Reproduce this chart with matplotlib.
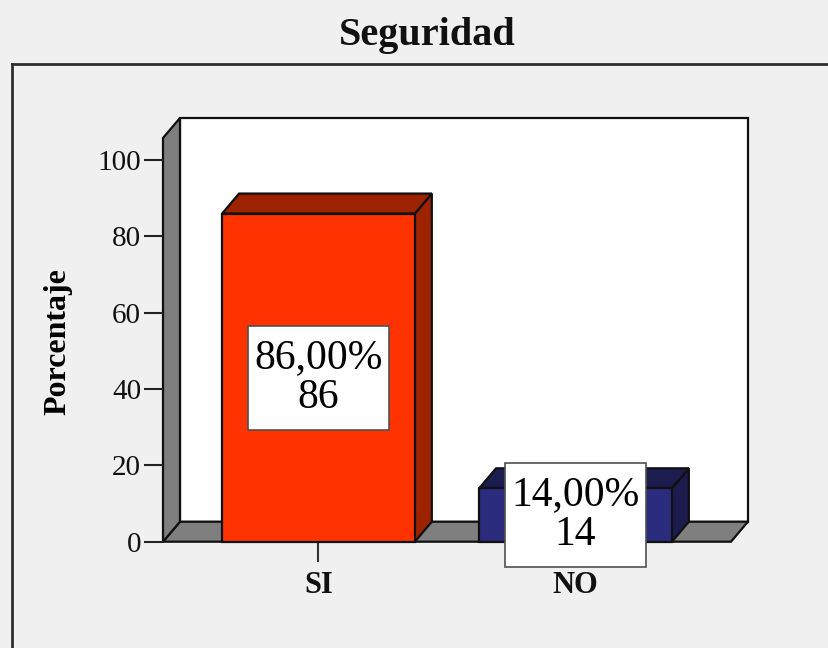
import matplotlib
matplotlib.use("Agg")
import matplotlib.pyplot as plt
from matplotlib.patches import Rectangle, Polygon
from matplotlib.lines import Line2D

# Data
categories = ["SI", "NO"]
percentages = [86.0, 14.0]
counts = [86, 14]
yticks = [0, 20, 40, 60, 80, 100]

title = "Seguridad"
ylabel = "Porcentaje"

plt.rcParams["font.family"] = ["Liberation Serif", "DejaVu Serif"]

BG = "#F0F0F0"
WALL_GRAY = "#7F7F7F"
EDGE = "#101010"
front_colors = ["#FF3300", "#2B2B7E"]
shade_colors = ["#9C2200", "#1C1C4E"]

W, H = 829, 648
fig = plt.figure(figsize=(W / 100, H / 100), dpi=100, facecolor=BG)

# plot area (front frame of the 3D box)
left_px, right_px, base_px, top_px = 163, 731, 541.7, 138
ax = fig.add_axes([left_px / W, (H - base_px) / H,
                   (right_px - left_px) / W, (base_px - top_px) / H])
x0, x1 = -0.605, 1.605
ytop = 105.8
ax.set_xlim(x0, x1)
ax.set_ylim(0, ytop)
ax.patch.set_visible(False)
for s in ax.spines.values():
    s.set_visible(False)

# depth of the 3D effect in data units
dx, dy = 0.066, 5.24
lw = 1.6

# back wall
ax.add_patch(Rectangle((x0 + dx, dy), x1 - x0, ytop, facecolor="white",
                       edgecolor=EDGE, lw=lw, clip_on=False, zorder=1))
# left wall
ax.add_patch(Polygon([(x0, 0), (x0, ytop), (x0 + dx, ytop + dy), (x0 + dx, dy)],
                     closed=True, facecolor=WALL_GRAY, edgecolor=EDGE, lw=lw,
                     clip_on=False, zorder=1.2))
# floor
ax.add_patch(Polygon([(x0, 0), (x0 + dx, dy), (x1 + dx, dy), (x1, 0)],
                     closed=True, facecolor=WALL_GRAY, edgecolor=EDGE, lw=lw,
                     clip_on=False, zorder=1.1))

# bars
bw = 0.75
for i, v in enumerate(percentages):
    xl, xr = i - bw / 2, i + bw / 2
    ax.add_patch(Polygon([(xr, 0), (xr, v), (xr + dx, v + dy), (xr + dx, dy)],
                         closed=True, facecolor=shade_colors[i], edgecolor=EDGE,
                         lw=lw, clip_on=False, zorder=2))
    ax.add_patch(Polygon([(xl, v), (xl + dx, v + dy), (xr + dx, v + dy), (xr, v)],
                         closed=True, facecolor=shade_colors[i], edgecolor=EDGE,
                         lw=lw, clip_on=False, zorder=2))
    ax.add_patch(Rectangle((xl, 0), bw, v, facecolor=front_colors[i],
                           edgecolor=EDGE, lw=lw, clip_on=False, zorder=2.1))

# value labels
labels = []
for i, (p, c) in enumerate(zip(percentages, counts)):
    txt = f"{p:.2f}%".replace(".", ",") + f"\n{c}"
    labels.append(ax.text(i, p / 2, txt, ha="center", va="center",
                          multialignment="center", fontsize=30,
                          linespacing=1.03, zorder=6, clip_on=False))

# axes ticks
ax.set_yticks(yticks)
ax.set_yticklabels([str(t) for t in yticks])
ax.tick_params(axis="y", length=13.7, width=1.5, pad=2, labelsize=21,
               color="#222222", labelcolor="#111111")
ax.set_xticks(range(len(categories)))
ax.set_xticklabels(categories, fontweight="bold")
ax.tick_params(axis="x", length=14.4, width=1.5, pad=6.5, labelsize=22,
               color="#333333", labelcolor="#111111")

ax.set_ylabel(ylabel, fontsize=23, fontweight="bold", va="center")
ax.yaxis.set_label_coords((58 - left_px) / (right_px - left_px), 0.496)

fig.text(427 / W, 1 - 45 / H, title, ha="center", va="baseline",
         fontsize=29, fontweight="bold", color="#111111")

# white label boxes sized around the rendered text (placed beneath the text)
fig.canvas.draw()
renderer = fig.canvas.get_renderer()
pad_x, pad_y = 6, 13
to_data = ax.transData.inverted()
for t in labels:
    bb = t.get_window_extent(renderer)
    (bx0, by0), (bx1, by1) = to_data.transform(
        [(bb.x0 - pad_x, bb.y0 - pad_y), (bb.x1 + pad_x, bb.y1 + pad_y)])
    ax.add_patch(Rectangle((bx0, by0), bx1 - bx0, by1 - by0,
                           facecolor="white", edgecolor="#505050", lw=1.2,
                           zorder=5, clip_on=False))

# outer chart frame
fy = 1 - 64.3 / H
fx = 11.7 / W
fig.add_artist(Line2D([fx, 1.01], [fy, fy], transform=fig.transFigure,
                      color="#2F2F2F", lw=2))
fig.add_artist(Line2D([fx, fx], [fy, -0.01], transform=fig.transFigure,
                      color="#2F2F2F", lw=2))

fig.savefig("out.png", dpi=100, facecolor=BG)
